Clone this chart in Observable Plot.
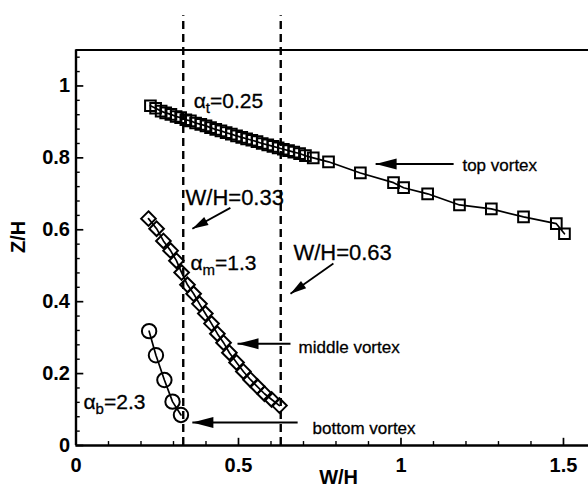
<!DOCTYPE html>
<html>
<head>
<meta charset="utf-8">
<script src="https://cdn.jsdelivr.net/npm/d3@7"></script>
<script src="https://cdn.jsdelivr.net/npm/@observablehq/plot@0.6"></script>
<style>
  html, body { margin: 0; padding: 0; background: #fff; }
</style>
</head>
<body>
<div id="chart"></div>
<script>
// ---- data ----
const topX = [0.229, 0.245, 0.262, 0.276, 0.292, 0.308, 0.322, 0.338, 0.352, 0.368, 0.384, 0.400, 0.414, 0.430, 0.446, 0.462, 0.478, 0.494, 0.510, 0.525, 0.541, 0.557, 0.573, 0.590, 0.606, 0.622, 0.638, 0.654, 0.670, 0.688, 0.706, 0.730, 0.777, 0.875, 0.977, 1.008, 1.082, 1.180, 1.278, 1.377, 1.478, 1.503];
const topY = [0.945, 0.938, 0.930, 0.925, 0.921, 0.915, 0.912, 0.906, 0.903, 0.897, 0.893, 0.889, 0.884, 0.879, 0.875, 0.870, 0.866, 0.861, 0.857, 0.853, 0.849, 0.845, 0.840, 0.836, 0.832, 0.828, 0.824, 0.820, 0.816, 0.812, 0.806, 0.800, 0.789, 0.758, 0.731, 0.717, 0.700, 0.669, 0.658, 0.636, 0.617, 0.589];
const midX = [0.223, 0.248, 0.269, 0.291, 0.309, 0.325, 0.343, 0.362, 0.380, 0.398, 0.417, 0.435, 0.454, 0.472, 0.494, 0.515, 0.537, 0.558, 0.580, 0.602, 0.626];
const midY = [0.631, 0.603, 0.569, 0.542, 0.514, 0.481, 0.447, 0.422, 0.394, 0.367, 0.339, 0.311, 0.286, 0.258, 0.231, 0.206, 0.183, 0.164, 0.144, 0.128, 0.111];
const botX = [0.225, 0.246, 0.272, 0.297, 0.323];
const botY = [0.318, 0.251, 0.182, 0.122, 0.085];
const guideX = [0.33, 0.63];
const xTickLabels = [0, 0.5, 1, 1.5];
const yTickLabels = [0, 0.2, 0.4, 0.6, 0.8, 1];
const xMinor = [0.1, 0.2, 0.3, 0.4, 0.6, 0.7, 0.8, 0.9, 1.1, 1.2, 1.3, 1.4, 1.6];
const yMinor = [0.04, 0.08, 0.12, 0.16, 0.24, 0.28, 0.32, 0.36, 0.44, 0.48, 0.52, 0.56, 0.64, 0.68, 0.72, 0.76, 0.84, 0.88, 0.92, 0.96, 1.04, 1.08];

// annotations (text and arrows, in data units)
const labels = [
  {text: "α_t=0.25", x: 0.362, y: 0.958, size: 21},
  {text: "W/H=0.33", x: 0.337, y: 0.689, size: 22},
  {text: "W/H=0.63", x: 0.669, y: 0.536, size: 22},
  {text: "α_m=1.3", x: 0.352, y: 0.506, size: 21},
  {text: "α_b=2.3", x: 0.023, y: 0.119, size: 21},
  {text: "top vortex", x: 1.189, y: 0.778, size: 17},
  {text: "middle vortex", x: 0.685, y: 0.272, size: 17},
  {text: "bottom vortex", x: 0.728, y: 0.047, size: 17}
];
const arrows = [
  {x1: 0.475, y1: 0.661, x2: 0.358, y2: 0.603, len: 16, half: 4.5},
  {x1: 0.792, y1: 0.506, x2: 0.660, y2: 0.422, len: 16, half: 4.5},
  {x1: 1.162, y1: 0.783, x2: 0.922, y2: 0.783, len: 21, half: 5.5},
  {x1: 0.660, y1: 0.283, x2: 0.497, y2: 0.283, len: 21, half: 5.5},
  {x1: 0.682, y1: 0.064, x2: 0.358, y2: 0.064, len: 21, half: 5.5}
];

const topData = topX.map((x, i) => ({x, y: topY[i]}));
const midData = midX.map((x, i) => ({x, y: midY[i]}));
const botData = botX.map((x, i) => ({x, y: botY[i]}));

const W = 588, H = 489;
const mL = 75.5, mR = 0, mT = 49.5, mB = 44;
const xDomain = [0, 1.577], yDomain = [0, 1.1];
const sx = d3.scaleLinear(xDomain, [mL, W - mR]);
const sy = d3.scaleLinear(yDomain, [H - mB, mT]);
arrows.forEach(a => {
  a.angle = Math.atan2(sy(a.y2) - sy(a.y1), sx(a.x2) - sx(a.x1)) * 180 / Math.PI;
});
const headSymbol = (len, half) => ({
  draw(ctx) { ctx.moveTo(0, 0); ctx.lineTo(-len, -half); ctx.lineTo(-len, half); ctx.closePath(); }
});

const font = "'Liberation Sans', Arial, Helvetica, sans-serif";

const plot = Plot.plot({
  width: W, height: H,
  marginLeft: mL, marginRight: mR, marginTop: mT, marginBottom: mB,
  style: {fontFamily: font, fontSize: "20px", background: "#fff", color: "#000", overflow: "visible"},
  x: {domain: xDomain, label: null},
  y: {domain: yDomain, label: null},
  marks: [
    // dashed guides
    Plot.ruleX(guideX, {x: d => d, y1: 0, y2: 1.195, stroke: "#000", strokeWidth: 2.4, strokeDasharray: "8,5", clip: false}),
    // frame
    Plot.ruleY([0], {stroke: "#000", strokeWidth: 2.4}),
    Plot.ruleY([1.1], {stroke: "#000", strokeWidth: 2}),
    Plot.ruleX([0], {stroke: "#000", strokeWidth: 2.4}),
    // inward ticks
    Plot.ruleX(xTickLabels, {x: d => d, y1: 0, y2: 0.02, stroke: "#000", strokeWidth: 1.7}),
    Plot.ruleX(xMinor, {x: d => d, y1: 0, y2: 0.011, stroke: "#000", strokeWidth: 1.4}),
    Plot.ruleY(yTickLabels, {y: d => d, x1: 0, x2: 0.024, stroke: "#000", strokeWidth: 1.7}),
    Plot.ruleY(yMinor, {y: d => d, x1: 0, x2: 0.013, stroke: "#000", strokeWidth: 1.4}),
    // axes labels
    Plot.axisX({ticks: xTickLabels, tickSize: 0, tickPadding: 12, fontSize: 20, fontWeight: "bold", tickFormat: d => String(d)}),
    Plot.axisY({ticks: yTickLabels, tickSize: 0, tickPadding: 6, fontSize: 20, fontWeight: "bold", tickFormat: d => String(d)}),
    Plot.text(["W/H"], {x: 0.808, y: -0.09, text: d => d, fontSize: 20, fontWeight: "bold", textAnchor: "middle", lineAnchor: "middle", clip: false}),
    Plot.text(["Z/H"], {x: -0.177, y: 0.58, text: d => d, fontSize: 20, fontWeight: "bold", rotate: -90, textAnchor: "middle", lineAnchor: "middle", clip: false}),
    // series
    Plot.line(topData, {x: "x", y: "y", stroke: "#000", strokeWidth: 1.7}),
    Plot.dot(topData, {x: "x", y: "y", symbol: "square2", r: 6.8, stroke: "#000", strokeWidth: 2, fill: "none"}),
    Plot.line(midData, {x: "x", y: "y", stroke: "#000", strokeWidth: 1.7}),
    Plot.dot(midData, {x: "x", y: "y", symbol: "diamond2", r: 6.6, stroke: "#000", strokeWidth: 2, fill: "none"}),
    Plot.line(botData, {x: "x", y: "y", stroke: "#000", strokeWidth: 1.7}),
    Plot.dot(botData, {x: "x", y: "y", symbol: "circle", r: 7.2, stroke: "#000", strokeWidth: 2, fill: "none"}),
    // annotations
    Plot.link(arrows, {x1: "x1", y1: "y1", x2: "x2", y2: "y2", stroke: "#000", strokeWidth: 1.8}),
    ...arrows.map(a => Plot.dot([a], {x: "x2", y: "y2", symbol: headSymbol(a.len, a.half), rotate: a.angle, fill: "#000", stroke: "none", r: 5})),
    Plot.text(labels, {x: "x", y: "y", text: "text", fontSize: "size", textAnchor: "start", lineAnchor: "middle", fill: "#000", stroke: "#000", strokeWidth: 0.3})
  ]
});

// subscripts for alpha labels
d3.select(plot).selectAll("text").each(function () {
  const s = this.textContent;
  const m = s.match(/^(.*)_(\w)(.*)$/);
  if (!m) return;
  const t = d3.select(this);
  t.text(null);
  t.append("tspan").text(m[1]);
  t.append("tspan").attr("dy", 5).attr("font-size", 15).text(m[2]);
  t.append("tspan").attr("dy", -5).text(m[3]);
});

document.getElementById("chart").appendChild(plot);
</script>
</body>
</html>
